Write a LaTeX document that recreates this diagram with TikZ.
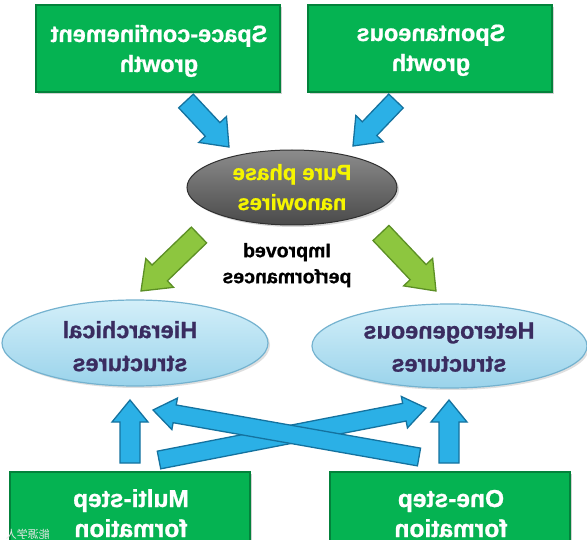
\documentclass[tikz,border=0pt]{standalone}
\usepackage{fontspec}
\setmainfont[BoldFeatures={FakeBold=0.9}]{Liberation Sans}
\newfontfamily\cjk{Noto Sans CJK SC}
\usepackage{graphicx}
\usetikzlibrary{calc,shapes.geometric,shadows}
\definecolor{boxgreen}{HTML}{05B352}
\definecolor{boxgreenD}{HTML}{03823B}
\definecolor{arrblue}{HTML}{2BB0E6}
\definecolor{arrblueD}{HTML}{14729F}
\definecolor{arrgreen}{HTML}{8DC63F}
\definecolor{arrgreenD}{HTML}{5C8F25}
\definecolor{grayT}{HTML}{8C8C8C}
\definecolor{grayM}{HTML}{595959}
\definecolor{grayB}{HTML}{4A4A4A}
\definecolor{grayD}{HTML}{303030}
\definecolor{lbT}{HTML}{D3EFF9}
\definecolor{lbB}{HTML}{9AD3EB}
\definecolor{lbD}{HTML}{74B2CF}
\definecolor{purp}{HTML}{3A2C60}
\definecolor{ylw}{HTML}{F5F500}
\newcommand\mtxt[1]{\reflectbox{\begin{tabular}{@{}c@{}}#1\end{tabular}}}
% #1 fill, #2 border, #3 from, #4 to, #5 shaft half width, #6 head half width, #7 head length
\newcommand\blockarrow[7]{%
  \coordinate (bah) at ($(#4)!#7!(#3)$);
  \filldraw[fill=#1, draw=#2, line width=1.3pt, line join=miter]
    ($(#3)!#5!90:(#4)$) -- ($(bah)!#5!90:(#4)$) -- ($(bah)!#6!90:(#4)$) -- (#4)
    -- ($(bah)!#6!-90:(#4)$) -- ($(bah)!#5!-90:(#4)$) -- ($(#3)!#5!-90:(#4)$) -- cycle;
}
\begin{document}
\begin{tikzpicture}[x=1pt,y=-1pt,
  gbox/.style={rectangle, fill=boxgreen, draw=boxgreenD, line width=1.2pt, inner sep=0pt,
    drop shadow={shadow xshift=2pt, shadow yshift=-2pt, opacity=.35}},
  grayell/.style={ellipse, inner sep=0pt, top color=grayT, middle color=grayM, bottom color=grayB,
    draw=grayD, line width=1pt, drop shadow={shadow xshift=2pt, shadow yshift=-2pt, opacity=.3}},
  blueell/.style={ellipse, inner sep=0pt, top color=lbT, bottom color=lbB,
    draw=lbD, line width=1.2pt, drop shadow={shadow xshift=2pt, shadow yshift=-2pt, opacity=.25}},
  wtxt/.style={text=white, inner sep=0pt, font=\bfseries\fontsize{23.5}{30}\selectfont},
  ytxt/.style={text=ylw, inner sep=0pt, font=\bfseries\fontsize{22}{30}\selectfont},
  ktxt/.style={text=black, inner sep=0pt, font=\bfseries\fontsize{19.5}{26}\selectfont},
  ptxt/.style={text=purp, inner sep=0pt, font=\bfseries\fontsize{23.5}{33}\selectfont}]
\useasboundingbox (0,0) rectangle (587,540);
\clip (0,0) rectangle (587,540);
\fill[white] (0,0) rectangle (587,540);

% shapes
\node[gbox, minimum width=244pt, minimum height=87pt] (tl) at (158,48.5) {};
\node[gbox, minimum width=244pt, minimum height=87pt] (tr) at (430,48.5) {};
\node[grayell, minimum width=210pt, minimum height=75pt] (pure) at (292,187.5) {};
\node[blueell, minimum width=266pt, minimum height=86pt] (hier) at (135,343) {};
\node[blueell, minimum width=275pt, minimum height=84pt] (het) at (449.5,346) {};
\node[gbox, minimum width=240pt, minimum height=86pt] (bl) at (130,515) {};
\node[gbox, minimum width=240pt, minimum height=86pt] (br) at (450,515) {};

% texts
\node[wtxt] (tl-t) at (159,51) {\mtxt{Space-confinement\\growth}};
\node[wtxt] (tr-t) at (431,50) {\mtxt{Spontaneous\\growth}};
\node[ytxt] (pure-t) at (292,189) {\mtxt{Pure phase\\nanowires}};
\node[ktxt] (imp-t) at (287,265) {\mtxt{Improved\\performances}};
\node[ptxt] (hier-t) at (130,348) {\mtxt{Hierarchical\\structures}};
\node[ptxt] (het-t) at (449,348.5) {\mtxt{Heterogeneous\\structures}};
\node[wtxt, font=\bfseries\fontsize{24.5}{30}\selectfont] (bl-t) at (131,516) {\mtxt{Multi-step\\formation}};
\node[wtxt, font=\bfseries\fontsize{24.5}{30}\selectfont] (br-t) at (451,516) {\mtxt{One-step\\formation}};
\node[text=white!82!gray, inner sep=0pt, font=\cjk\fontsize{11}{12}\selectfont] (wm) at (28,534) {\reflectbox{能源学人}};

% arrow end points
\coordinate (a1s) at (186,101); \coordinate (a1e) at (229,147);
\coordinate (a2s) at (396,101); \coordinate (a2e) at (353,146);
\coordinate (g1s) at (199,235); \coordinate (g1e) at (141,291);
\coordinate (g2s) at (381,233); \coordinate (g2e) at (436,291);
\coordinate (v1s) at (130,463); \coordinate (v1e) at (130,400);
\coordinate (v2s) at (449,463); \coordinate (v2e) at (449,400);
\coordinate (c1s) at (159,460); \coordinate (c1e) at (426,408);
\coordinate (c2s) at (419,457); \coordinate (c2e) at (153,410);

% arrows
\blockarrow{arrblue}{arrblueD}{a1s}{a1e}{10pt}{19pt}{24pt}
\blockarrow{arrblue}{arrblueD}{a2s}{a2e}{10pt}{19pt}{24pt}
\blockarrow{arrgreen}{arrgreenD}{g1s}{g1e}{11pt}{20pt}{26pt}
\blockarrow{arrgreen}{arrgreenD}{g2s}{g2e}{11pt}{20pt}{26pt}
\blockarrow{arrblue}{arrblueD}{v1s}{v1e}{10pt}{18pt}{22pt}
\blockarrow{arrblue}{arrblueD}{v2s}{v2e}{10pt}{18pt}{22pt}
\blockarrow{arrblue}{arrblueD}{c1s}{c1e}{9pt}{16pt}{22pt}
\blockarrow{arrblue}{arrblueD}{c2s}{c2e}{9pt}{16pt}{22pt}
\end{tikzpicture}
\end{document}
